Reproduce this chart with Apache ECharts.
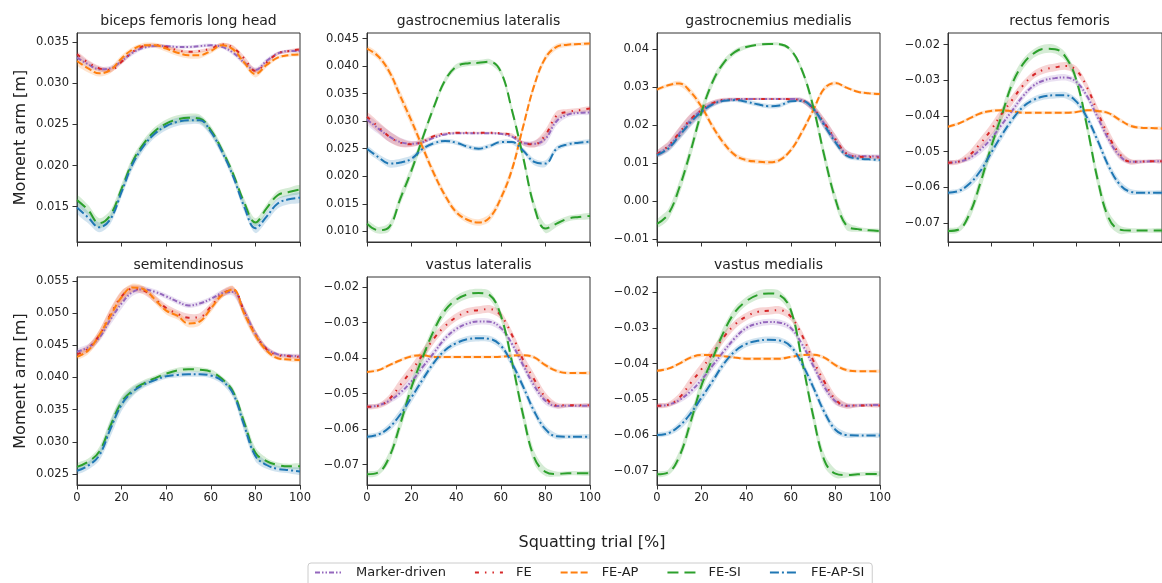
<!DOCTYPE html>
<html>
<head>
<meta charset="utf-8">
<script src="https://cdn.jsdelivr.net/npm/echarts@6/dist/echarts.min.js"></script>
<style>html,body{margin:0;padding:0;background:#fff;}#c{width:1162px;height:583px;}</style>
</head>
<body>
<div id="c"></div>
<script>
// ---------------- DATA ----------------
const X = [0,5,10,15,20,25,30,35,40,45,50,55,60,65,70,75,80,85,90,95,100];
const SERIES_NAMES = ['Marker-driven','FE','FE-AP','FE-SI','FE-AP-SI'];
const PANEL_TITLES = ['biceps femoris long head','gastrocnemius lateralis','gastrocnemius medialis','rectus femoris','semitendinosus','vastus lateralis','vastus medialis'];
const X_TICKS = [0,20,40,60,80,100];

// biceps femoris long head
const bfl_md    = [0.0331,0.0323,0.0317,0.0318,0.0327,0.0337,0.0343,0.0345,0.0345,0.0344,0.0344,0.0345,0.0346,0.0344,0.0337,0.0325,0.0316,0.0327,0.0336,0.0339,0.0339];
const bfl_fe    = [0.0335,0.0325,0.0318,0.0316,0.0326,0.0338,0.0345,0.0346,0.0344,0.0340,0.0338,0.0339,0.0342,0.0347,0.0343,0.0330,0.0315,0.0325,0.0336,0.0339,0.0341];
const bfl_feap  = [0.0327,0.0318,0.0312,0.0316,0.0330,0.0341,0.0346,0.0346,0.0342,0.0337,0.0334,0.0334,0.0339,0.0346,0.0341,0.0325,0.0311,0.0322,0.0331,0.0334,0.0335];
const bfl_fesi  = [0.0158,0.0146,0.0130,0.0140,0.0172,0.0205,0.0227,0.0242,0.0251,0.0256,0.0258,0.0257,0.0243,0.0219,0.0190,0.0155,0.0131,0.0148,0.0164,0.0168,0.0171];
const bfl_feapsi= [0.0149,0.0137,0.0125,0.0135,0.0168,0.0202,0.0224,0.0239,0.0248,0.0253,0.0255,0.0255,0.0241,0.0217,0.0187,0.0150,0.0124,0.0138,0.0154,0.0159,0.0161];
const bfl_md_sd    = [0.0004,0.0004,0.0003,0.0003,0.0003,0.0003,0.0002,0.0002,0.0002,0.0002,0.0002,0.0002,0.0002,0.0002,0.0003,0.0003,0.0003,0.0003,0.0002,0.0002,0.0002];
const bfl_fe_sd    = [0.0003,0.0003,0.0003,0.0003,0.0003,0.0002,0.0002,0.0002,0.0002,0.0002,0.0002,0.0002,0.0002,0.0002,0.0003,0.0003,0.0003,0.0002,0.0002,0.0002,0.0002];
const bfl_feap_sd  = [0.0005,0.0005,0.0004,0.0004,0.0004,0.0003,0.0003,0.0003,0.0004,0.0004,0.0004,0.0004,0.0003,0.0003,0.0004,0.0004,0.0004,0.0003,0.0002,0.0002,0.0002];
const bfl_fesi_sd  = [0.0006,0.0006,0.0006,0.0006,0.0006,0.0006,0.0005,0.0005,0.0005,0.0005,0.0005,0.0005,0.0005,0.0005,0.0005,0.0005,0.0005,0.0005,0.0005,0.0005,0.0005];
const bfl_feapsi_sd= [0.0007,0.0007,0.0006,0.0006,0.0006,0.0006,0.0005,0.0005,0.0005,0.0005,0.0005,0.0005,0.0005,0.0005,0.0005,0.0006,0.0006,0.0006,0.0006,0.0006,0.0006];

// gastrocnemius lateralis
const gl_md    = [0.0303,0.0287,0.0272,0.0262,0.0259,0.0262,0.0270,0.0276,0.0278,0.0278,0.0278,0.0278,0.0277,0.0272,0.0260,0.0259,0.0268,0.0300,0.0312,0.0315,0.0316];
const gl_fe    = [0.0308,0.0290,0.0272,0.0261,0.0258,0.0263,0.0273,0.0278,0.0279,0.0279,0.0279,0.0279,0.0278,0.0275,0.0260,0.0258,0.0275,0.0310,0.0317,0.0320,0.0323];
const gl_feap  = [0.0432,0.0418,0.0390,0.0345,0.0300,0.0252,0.0205,0.0165,0.0135,0.0121,0.0116,0.0125,0.0160,0.0212,0.0290,0.0365,0.0415,0.0435,0.0439,0.0440,0.0441];
const gl_fesi  = [0.0114,0.0102,0.0108,0.0160,0.0211,0.0270,0.0326,0.0374,0.0399,0.0405,0.0406,0.0408,0.0390,0.0320,0.0235,0.0145,0.0105,0.0114,0.0123,0.0126,0.0128];
const gl_feapsi= [0.0250,0.0235,0.0223,0.0225,0.0232,0.0250,0.0260,0.0264,0.0261,0.0254,0.0250,0.0255,0.0262,0.0262,0.0247,0.0226,0.0223,0.0250,0.0258,0.0261,0.0263];
const gl_md_sd    = [0.0008,0.0010,0.0010,0.0008,0.0005,0.0004,0.0003,0.0002,0.0002,0.0002,0.0002,0.0002,0.0002,0.0003,0.0004,0.0006,0.0010,0.0008,0.0005,0.0004,0.0004];
const gl_fe_sd    = [0.0008,0.0010,0.0010,0.0008,0.0005,0.0004,0.0003,0.0002,0.0002,0.0002,0.0002,0.0002,0.0002,0.0003,0.0004,0.0006,0.0010,0.0008,0.0005,0.0004,0.0004];
const gl_feap_sd  = [0.0005,0.0006,0.0008,0.0010,0.0010,0.0009,0.0008,0.0007,0.0006,0.0006,0.0006,0.0007,0.0008,0.0009,0.0008,0.0007,0.0006,0.0005,0.0004,0.0003,0.0003];
const gl_fesi_sd  = [0.0006,0.0006,0.0008,0.0010,0.0010,0.0008,0.0007,0.0006,0.0005,0.0005,0.0005,0.0005,0.0006,0.0008,0.0010,0.0010,0.0008,0.0006,0.0005,0.0005,0.0005];
const gl_feapsi_sd= [0.0005,0.0006,0.0007,0.0007,0.0006,0.0005,0.0004,0.0004,0.0004,0.0004,0.0004,0.0004,0.0004,0.0004,0.0005,0.0006,0.0006,0.0005,0.0004,0.0004,0.0004];

// gastrocnemius medialis
const gm_md    = [0.0124,0.0143,0.0178,0.0213,0.0239,0.0257,0.0266,0.0268,0.0269,0.0269,0.0269,0.0269,0.0269,0.0266,0.0244,0.0204,0.0161,0.0125,0.0118,0.0118,0.0117];
const gm_fe    = [0.0124,0.0145,0.0180,0.0215,0.0240,0.0258,0.0267,0.0268,0.0269,0.0269,0.0269,0.0269,0.0268,0.0265,0.0245,0.0206,0.0163,0.0125,0.0117,0.0116,0.0115];
const gm_feap  = [0.0294,0.0305,0.0310,0.0288,0.0248,0.0196,0.0152,0.0121,0.0108,0.0104,0.0102,0.0108,0.0134,0.0182,0.0239,0.0296,0.0311,0.0299,0.0288,0.0284,0.0282];
const gm_fesi  = [-0.0060,-0.0035,0.0035,0.0130,0.0235,0.0315,0.0365,0.0393,0.0406,0.0412,0.0414,0.0413,0.0398,0.0345,0.0250,0.0120,0.0005,-0.0065,-0.0074,-0.0077,-0.0079];
const gm_feapsi= [0.0121,0.0138,0.0172,0.0207,0.0235,0.0255,0.0264,0.0266,0.0262,0.0255,0.0250,0.0252,0.0263,0.0264,0.0244,0.0200,0.0155,0.0120,0.0112,0.0110,0.0108];
const gm_md_sd    = [0.0008,0.0012,0.0016,0.0016,0.0012,0.0008,0.0005,0.0004,0.0003,0.0003,0.0003,0.0003,0.0004,0.0006,0.0010,0.0014,0.0014,0.0010,0.0006,0.0005,0.0005];
const gm_fe_sd    = [0.0008,0.0012,0.0015,0.0015,0.0011,0.0007,0.0005,0.0004,0.0003,0.0003,0.0003,0.0003,0.0004,0.0006,0.0010,0.0013,0.0013,0.0009,0.0006,0.0005,0.0005];
const gm_feap_sd  = [0.0004,0.0005,0.0007,0.0009,0.0010,0.0010,0.0009,0.0007,0.0006,0.0006,0.0006,0.0006,0.0007,0.0009,0.0009,0.0007,0.0005,0.0004,0.0004,0.0004,0.0004];
const gm_fesi_sd  = [0.0010,0.0014,0.0018,0.0018,0.0016,0.0012,0.0009,0.0007,0.0005,0.0004,0.0004,0.0004,0.0005,0.0009,0.0014,0.0018,0.0016,0.0011,0.0007,0.0005,0.0005];
const gm_feapsi_sd= [0.0006,0.0009,0.0012,0.0012,0.0010,0.0007,0.0005,0.0005,0.0006,0.0006,0.0006,0.0006,0.0005,0.0005,0.0008,0.0011,0.0010,0.0007,0.0005,0.0004,0.0004];

// rectus femoris
const rf_md    = [-0.0531,-0.0528,-0.0518,-0.0495,-0.0465,-0.0425,-0.0385,-0.0345,-0.0315,-0.0300,-0.0294,-0.0292,-0.0305,-0.0345,-0.0405,-0.0465,-0.0510,-0.0528,-0.0528,-0.0527,-0.0527];
const rf_fe    = [-0.0531,-0.0528,-0.0510,-0.0478,-0.0440,-0.0395,-0.0355,-0.0315,-0.0285,-0.0270,-0.0264,-0.0260,-0.0272,-0.0320,-0.0390,-0.0455,-0.0505,-0.0528,-0.0528,-0.0527,-0.0527];
const rf_feap  = [-0.0430,-0.0421,-0.0407,-0.0393,-0.0386,-0.0384,-0.0387,-0.0391,-0.0391,-0.0391,-0.0391,-0.0391,-0.0389,-0.0384,-0.0386,-0.0392,-0.0410,-0.0427,-0.0433,-0.0434,-0.0435];
const rf_fesi  = [-0.0722,-0.0718,-0.0675,-0.0590,-0.0490,-0.0400,-0.0310,-0.0255,-0.0225,-0.0212,-0.0213,-0.0235,-0.0300,-0.0430,-0.0580,-0.0685,-0.0718,-0.0721,-0.0721,-0.0721,-0.0721];
const rf_feapsi= [-0.0615,-0.0610,-0.0590,-0.0555,-0.0505,-0.0455,-0.0410,-0.0375,-0.0355,-0.0345,-0.0342,-0.0342,-0.0360,-0.0405,-0.0470,-0.0540,-0.0590,-0.0612,-0.0615,-0.0615,-0.0615];
const rf_md_sd    = [0.0005,0.0005,0.0008,0.0012,0.0013,0.0013,0.0012,0.0010,0.0009,0.0009,0.0009,0.0009,0.0009,0.0010,0.0012,0.0013,0.0011,0.0007,0.0005,0.0005,0.0005];
const rf_fe_sd    = [0.0006,0.0007,0.0012,0.0016,0.0017,0.0016,0.0014,0.0012,0.0011,0.0011,0.0011,0.0011,0.0011,0.0012,0.0015,0.0016,0.0013,0.0008,0.0005,0.0005,0.0005];
const rf_feap_sd  = [0.0004,0.0004,0.0005,0.0005,0.0005,0.0004,0.0004,0.0004,0.0004,0.0004,0.0004,0.0004,0.0004,0.0004,0.0004,0.0005,0.0006,0.0005,0.0004,0.0004,0.0004];
const rf_fesi_sd  = [0.0007,0.0008,0.0015,0.0020,0.0020,0.0018,0.0016,0.0014,0.0012,0.0012,0.0012,0.0012,0.0014,0.0018,0.0020,0.0018,0.0012,0.0007,0.0006,0.0006,0.0006];
const rf_feapsi_sd= [0.0006,0.0007,0.0011,0.0014,0.0014,0.0013,0.0011,0.0010,0.0009,0.0009,0.0009,0.0009,0.0010,0.0012,0.0013,0.0013,0.0011,0.0008,0.0006,0.0006,0.0006];

// semitendinosus
const semi_md    = [0.0440,0.0447,0.0462,0.0490,0.0515,0.0533,0.0537,0.0533,0.0526,0.0518,0.0512,0.0515,0.0522,0.0531,0.0533,0.0503,0.0468,0.0445,0.0436,0.0434,0.0433];
const semi_fe    = [0.0436,0.0445,0.0466,0.0498,0.0526,0.0538,0.0535,0.0522,0.0508,0.0499,0.0493,0.0494,0.0510,0.0530,0.0536,0.0502,0.0467,0.0444,0.0435,0.0433,0.0432];
const semi_feap  = [0.0432,0.0442,0.0466,0.0496,0.0525,0.0540,0.0537,0.0521,0.0504,0.0496,0.0484,0.0487,0.0507,0.0528,0.0537,0.0499,0.0466,0.0442,0.0430,0.0428,0.0427];
const semi_fesi  = [0.0261,0.0269,0.0285,0.0325,0.0362,0.0380,0.0391,0.0399,0.0406,0.0411,0.0413,0.0412,0.0409,0.0398,0.0378,0.0330,0.0283,0.0270,0.0264,0.0262,0.0262];
const semi_feapsi= [0.0255,0.0263,0.0279,0.0320,0.0358,0.0378,0.0389,0.0396,0.0402,0.0404,0.0405,0.0405,0.0403,0.0395,0.0375,0.0325,0.0278,0.0264,0.0258,0.0256,0.0254];
const semi_md_sd    = [0.0004,0.0005,0.0006,0.0008,0.0008,0.0006,0.0005,0.0004,0.0004,0.0004,0.0004,0.0004,0.0004,0.0005,0.0006,0.0007,0.0006,0.0004,0.0003,0.0003,0.0003];
const semi_fe_sd    = [0.0004,0.0006,0.0008,0.0010,0.0009,0.0006,0.0006,0.0006,0.0006,0.0006,0.0006,0.0006,0.0006,0.0006,0.0006,0.0008,0.0007,0.0005,0.0003,0.0003,0.0003];
const semi_feap_sd  = [0.0004,0.0006,0.0008,0.0010,0.0009,0.0006,0.0005,0.0006,0.0006,0.0006,0.0006,0.0006,0.0006,0.0005,0.0005,0.0008,0.0007,0.0005,0.0003,0.0003,0.0003];
const semi_fesi_sd  = [0.0005,0.0005,0.0007,0.0010,0.0009,0.0007,0.0005,0.0004,0.0004,0.0004,0.0004,0.0004,0.0004,0.0004,0.0006,0.0009,0.0008,0.0005,0.0004,0.0004,0.0004];
const semi_feapsi_sd= [0.0005,0.0006,0.0008,0.0012,0.0010,0.0007,0.0005,0.0004,0.0004,0.0004,0.0004,0.0004,0.0004,0.0005,0.0007,0.0010,0.0008,0.0006,0.0005,0.0005,0.0005];

// vastus lateralis
const vl_md    = [-0.0537,-0.0533,-0.0520,-0.0497,-0.0465,-0.0425,-0.0385,-0.0345,-0.0318,-0.0303,-0.0297,-0.0298,-0.0315,-0.0360,-0.0420,-0.0478,-0.0520,-0.0535,-0.0534,-0.0534,-0.0534];
const vl_fe    = [-0.0537,-0.0535,-0.0515,-0.0475,-0.0435,-0.0390,-0.0345,-0.0310,-0.0285,-0.0270,-0.0265,-0.0262,-0.0280,-0.0335,-0.0405,-0.0460,-0.0510,-0.0533,-0.0533,-0.0533,-0.0533];
const vl_feap  = [-0.0439,-0.0434,-0.0420,-0.0406,-0.0395,-0.0392,-0.0397,-0.0397,-0.0397,-0.0397,-0.0397,-0.0397,-0.0396,-0.0393,-0.0392,-0.0398,-0.0420,-0.0436,-0.0442,-0.0442,-0.0442];
const vl_fesi  = [-0.0727,-0.0722,-0.0678,-0.0584,-0.0481,-0.0397,-0.0322,-0.0266,-0.0236,-0.0221,-0.0217,-0.0223,-0.0280,-0.0410,-0.0560,-0.0680,-0.0720,-0.0726,-0.0724,-0.0724,-0.0724];
const vl_feapsi= [-0.0621,-0.0615,-0.0595,-0.0558,-0.0510,-0.0460,-0.0413,-0.0378,-0.0358,-0.0347,-0.0344,-0.0346,-0.0365,-0.0415,-0.0480,-0.0550,-0.0600,-0.0620,-0.0621,-0.0621,-0.0621];
const vl_md_sd    = [0.0005,0.0005,0.0008,0.0012,0.0013,0.0013,0.0012,0.0010,0.0009,0.0009,0.0009,0.0009,0.0009,0.0010,0.0012,0.0013,0.0011,0.0007,0.0005,0.0005,0.0005];
const vl_fe_sd    = [0.0006,0.0007,0.0012,0.0016,0.0017,0.0016,0.0014,0.0012,0.0011,0.0011,0.0011,0.0011,0.0011,0.0012,0.0015,0.0016,0.0013,0.0008,0.0005,0.0005,0.0005];
const vl_feap_sd  = [0.0004,0.0004,0.0005,0.0005,0.0005,0.0004,0.0004,0.0004,0.0004,0.0004,0.0004,0.0004,0.0004,0.0004,0.0004,0.0005,0.0006,0.0005,0.0004,0.0004,0.0004];
const vl_fesi_sd  = [0.0007,0.0008,0.0015,0.0020,0.0020,0.0018,0.0016,0.0014,0.0012,0.0012,0.0012,0.0012,0.0014,0.0018,0.0020,0.0018,0.0012,0.0007,0.0006,0.0006,0.0006];
const vl_feapsi_sd= [0.0006,0.0007,0.0011,0.0014,0.0014,0.0013,0.0011,0.0010,0.0009,0.0009,0.0009,0.0009,0.0010,0.0012,0.0013,0.0013,0.0011,0.0008,0.0006,0.0006,0.0006];

// vastus medialis
const vm_md    = [-0.0518,-0.0515,-0.0502,-0.0478,-0.0445,-0.0405,-0.0365,-0.0328,-0.0300,-0.0288,-0.0283,-0.0285,-0.0300,-0.0345,-0.0405,-0.0465,-0.0505,-0.0518,-0.0517,-0.0516,-0.0516];
const vm_fe    = [-0.0518,-0.0515,-0.0495,-0.0455,-0.0415,-0.0370,-0.0325,-0.0290,-0.0268,-0.0255,-0.0252,-0.0250,-0.0268,-0.0320,-0.0390,-0.0450,-0.0500,-0.0518,-0.0517,-0.0517,-0.0517];
const vm_feap  = [-0.0420,-0.0414,-0.0400,-0.0383,-0.0376,-0.0376,-0.0379,-0.0383,-0.0386,-0.0386,-0.0386,-0.0386,-0.0381,-0.0376,-0.0375,-0.0383,-0.0404,-0.0418,-0.0421,-0.0421,-0.0421];
const vm_fesi  = [-0.0710,-0.0705,-0.0660,-0.0565,-0.0460,-0.0385,-0.0310,-0.0255,-0.0225,-0.0208,-0.0203,-0.0208,-0.0250,-0.0390,-0.0545,-0.0670,-0.0708,-0.0712,-0.0710,-0.0709,-0.0709];
const vm_feapsi= [-0.0600,-0.0595,-0.0575,-0.0540,-0.0495,-0.0448,-0.0400,-0.0365,-0.0345,-0.0336,-0.0333,-0.0335,-0.0352,-0.0400,-0.0465,-0.0535,-0.0585,-0.0600,-0.0601,-0.0601,-0.0601];
const vm_md_sd    = [0.0005,0.0005,0.0008,0.0012,0.0013,0.0013,0.0012,0.0010,0.0009,0.0009,0.0009,0.0009,0.0009,0.0010,0.0012,0.0013,0.0011,0.0007,0.0005,0.0005,0.0005];
const vm_fe_sd    = [0.0006,0.0007,0.0012,0.0016,0.0017,0.0016,0.0014,0.0012,0.0011,0.0011,0.0011,0.0011,0.0011,0.0012,0.0015,0.0016,0.0013,0.0008,0.0005,0.0005,0.0005];
const vm_feap_sd  = [0.0004,0.0004,0.0005,0.0005,0.0005,0.0004,0.0004,0.0004,0.0005,0.0005,0.0005,0.0005,0.0004,0.0004,0.0004,0.0005,0.0006,0.0005,0.0004,0.0004,0.0004];
const vm_fesi_sd  = [0.0007,0.0008,0.0015,0.0020,0.0020,0.0018,0.0016,0.0014,0.0012,0.0012,0.0012,0.0012,0.0014,0.0018,0.0020,0.0018,0.0012,0.0007,0.0006,0.0006,0.0006];
const vm_feapsi_sd= [0.0006,0.0007,0.0011,0.0014,0.0014,0.0013,0.0011,0.0010,0.0009,0.0009,0.0009,0.0009,0.0010,0.0012,0.0013,0.0013,0.0011,0.0008,0.0006,0.0006,0.0006];

// y tick labels per panel
const bfl_yticks  = [0.015,0.020,0.025,0.030,0.035];
const gl_yticks   = [0.010,0.015,0.020,0.025,0.030,0.035,0.040,0.045];
const gm_yticks   = [-0.01,0.00,0.01,0.02,0.03,0.04];
const rf_yticks   = [-0.07,-0.06,-0.05,-0.04,-0.03,-0.02];
const semi_yticks = [0.025,0.030,0.035,0.040,0.045,0.050,0.055];
const vl_yticks   = [-0.07,-0.06,-0.05,-0.04,-0.03,-0.02];
const vm_yticks   = [-0.07,-0.06,-0.05,-0.04,-0.03,-0.02];

// ---------------- LAYOUT / STYLE ----------------
const COLORS = ['#9467bd','#d62728','#ff7f0e','#2ca02c','#1f77b4'];
const DASHES = [[5,2,1.5,2,1.5,2],[4,6,1.5,6,1.5,6],[7,3],[11,6],[9,3,2,3]];
const FONT = 'DejaVu Sans';
const TXT = '#222';
const AX = '#333';

const panels = [
  {means:[bfl_md,bfl_fe,bfl_feap,bfl_fesi,bfl_feapsi], sds:[bfl_md_sd,bfl_fe_sd,bfl_feap_sd,bfl_fesi_sd,bfl_feapsi_sd], yticks:bfl_yticks, dec:3, ymin:0.01072, ymax:0.03609, left:77, top:33, h:209, xlab:false},
  {means:[gl_md,gl_fe,gl_feap,gl_fesi,gl_feapsi], sds:[gl_md_sd,gl_fe_sd,gl_feap_sd,gl_fesi_sd,gl_feapsi_sd], yticks:gl_yticks, dec:3, ymin:0.00806, ymax:0.04602, left:367, top:33, h:209, xlab:false},
  {means:[gm_md,gm_fe,gm_feap,gm_fesi,gm_feapsi], sds:[gm_md_sd,gm_fe_sd,gm_feap_sd,gm_fesi_sd,gm_feapsi_sd], yticks:gm_yticks, dec:2, ymin:-0.01079, ymax:0.04429, left:657, top:33, h:209, xlab:false},
  {means:[rf_md,rf_fe,rf_feap,rf_fesi,rf_feapsi], sds:[rf_md_sd,rf_fe_sd,rf_feap_sd,rf_fesi_sd,rf_feapsi_sd], yticks:rf_yticks, dec:2, ymin:-0.07531, ymax:-0.01676, left:948, top:33, h:209, xlab:false},
  {means:[semi_md,semi_fe,semi_feap,semi_fesi,semi_feapsi], sds:[semi_md_sd,semi_fe_sd,semi_feap_sd,semi_fesi_sd,semi_feapsi_sd], yticks:semi_yticks, dec:3, ymin:0.02329, ymax:0.05562, left:77, top:277, h:208, xlab:true},
  {means:[vl_md,vl_fe,vl_feap,vl_fesi,vl_feapsi], sds:[vl_md_sd,vl_fe_sd,vl_feap_sd,vl_fesi_sd,vl_feapsi_sd], yticks:vl_yticks, dec:2, ymin:-0.0757, ymax:-0.01719, left:367, top:277, h:208, xlab:true},
  {means:[vm_md,vm_fe,vm_feap,vm_fesi,vm_feapsi], sds:[vm_md_sd,vm_fe_sd,vm_feap_sd,vm_fesi_sd,vm_feapsi_sd], yticks:vm_yticks, dec:2, ymin:-0.074, ymax:-0.01571, left:657, top:277, h:208, xlab:true}
];
const PW = 223;

function bandRenderer(color) {
  return function (params, api) {
    if (params.dataIndex !== 0) return null;
    const n = X.length;
    const pts = [];
    for (let j = 0; j < n; j++) pts.push(api.coord([api.value(0, j), api.value(1, j)]));
    for (let j = n - 1; j >= 0; j--) pts.push(api.coord([api.value(0, j), api.value(2, j)]));
    return {type:'polygon', shape:{points:pts, smooth:0.3}, style:{fill:color, opacity:0.2}, silent:true};
  };
}

const grid = [], xAxis = [], yAxis = [], series = [], graphics = [];
panels.forEach((p, i) => {
  grid.push({left:p.left, top:p.top, width:PW, height:p.h, show:true, borderColor:AX, borderWidth:1, backgroundColor:'transparent', containLabel:false});
  xAxis.push({type:'value', gridIndex:i, min:0, max:100, interval:20,
    axisLine:{show:true, onZero:false, lineStyle:{color:AX, width:1}},
    axisTick:{show:true, inside:false, length:4.5, lineStyle:{color:AX, width:1}, customValues:X_TICKS},
    axisLabel:{show:p.xlab, margin:7, fontSize:11.5, color:TXT, fontFamily:FONT, customValues:X_TICKS},
    splitLine:{show:false}});
  yAxis.push({type:'value', gridIndex:i, min:p.ymin, max:p.ymax, scale:true,
    axisLine:{show:true, onZero:false, lineStyle:{color:AX, width:1}},
    axisTick:{show:true, inside:false, length:4.5, lineStyle:{color:AX, width:1}, customValues:p.yticks},
    axisLabel:{show:true, margin:8, fontSize:11.5, color:TXT, fontFamily:FONT, customValues:p.yticks,
      formatter:(v)=> v.toFixed(p.dec).replace('-', '\u2212')},
    splitLine:{show:false}});
  p.means.forEach((m, k) => {
    const sd = p.sds[k];
    series.push({type:'custom', name:'_band', xAxisIndex:i, yAxisIndex:i, clip:true, silent:true,
      data:X.map((x,j)=>[x, m[j]-sd[j], m[j]+sd[j]]),
      encode:{x:0, y:[1,2]},
      renderItem:bandRenderer(COLORS[k]), z:1});
  });
  p.means.forEach((m, k) => {
    series.push({type:'line', name:SERIES_NAMES[k], xAxisIndex:i, yAxisIndex:i,
      data:X.map((x,j)=>[x, m[j]]), symbol:'none', smooth:0.4, silent:true,
      itemStyle:{color:COLORS[k]},
      lineStyle:{color:COLORS[k], width:2, type:DASHES[k]}, z:3});
  });
  graphics.push({type:'text', x:p.left + PW/2, y:p.top - 12,
    style:{text:PANEL_TITLES[i], fill:TXT, font:'14px "DejaVu Sans"', textAlign:'center', textVerticalAlign:'middle'}});
});

graphics.push({type:'text', x:21, y:137.5, rotation:Math.PI/2,
  style:{text:'Moment arm [m]', fill:TXT, font:'16px "DejaVu Sans"', textAlign:'center', textVerticalAlign:'middle'}});
graphics.push({type:'text', x:21, y:381, rotation:Math.PI/2,
  style:{text:'Moment arm [m]', fill:TXT, font:'16px "DejaVu Sans"', textAlign:'center', textVerticalAlign:'middle'}});
graphics.push({type:'text', x:592, y:543,
  style:{text:'Squatting trial [%]', fill:TXT, font:'16px "DejaVu Sans"', textAlign:'center', textVerticalAlign:'middle'}});

const chart = echarts.init(document.getElementById('c'), null, {renderer:'canvas'});
chart.setOption({
  animation:false,
  backgroundColor:'#fff',
  grid, xAxis, yAxis, series,
  graphic:graphics,
  legend:{show:true, data:SERIES_NAMES, left:308, top:563, orient:'horizontal',
    itemWidth:28, itemHeight:14, itemGap:28, padding:[3,8,8,6],
    borderColor:'#ccc', borderWidth:1, borderRadius:3, backgroundColor:'rgba(255,255,255,0.8)',
    itemStyle:{opacity:0},
    textStyle:{fontSize:13, color:TXT, fontFamily:FONT, padding:[0,0,0,8]}}
});
</script>
</body>
</html>
